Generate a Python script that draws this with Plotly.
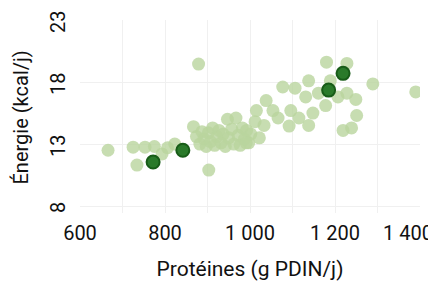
import plotly.graph_objects as go

# Light (other farms) points
light_x = [666, 725, 734, 753, 775, 793, 806, 823, 879, 903,
           867, 874, 882, 887, 892, 897, 902, 907, 912, 917, 922, 927, 932, 937, 942,
           947, 950, 957, 962, 967, 972, 977, 982, 987, 992, 997, 1002, 991, 1012, 1022,
           1015, 1033, 1038, 1054, 1066, 1077, 1092, 1096, 1106, 1115, 1131, 1138, 1138,
           1148, 1161, 1178, 1180, 1189, 1207, 1219, 1228, 1228, 1239, 1249, 1251, 1289, 1390]
light_y = [12.5, 12.75, 11.3, 12.75, 12.8, 12.2, 12.7, 13.0, 19.45, 10.9,
           14.4, 13.6, 13.0, 14.0, 13.4, 12.8, 13.9, 13.2, 14.3, 12.9, 13.6, 14.1, 13.1, 13.8, 12.8,
           15.0, 13.5, 14.2, 13.0, 15.1, 13.7, 12.9, 14.3, 13.4, 14.1, 13.1, 13.8, 13.1, 14.8, 13.5,
           15.7, 14.5, 16.5, 15.7, 15.1, 17.6, 14.45, 15.7, 17.5, 15.1, 16.8, 18.1, 14.5,
           15.5, 17.1, 16.1, 19.6, 18.1, 16.8, 14.1, 19.5, 17.1, 14.3, 16.6, 15.3, 17.85, 17.2]

# Highlighted points
dark_x = [772, 842, 1185, 1219]
dark_y = [11.55, 12.5, 17.35, 18.7]

x_ticks = [600, 800, 1000, 1200, 1400]
x_ticklabels = ["600", "800", "1 000", "1 200", "1 400"]
y_ticks = [8, 13, 18, 23]
y_ticklabels = ["8", "13", "18", "23"]

TXT = "#111"
font = "Roboto, Arial, sans-serif"
TICK_SIZE = 20

fig = go.Figure()
fig.add_trace(go.Scatter(
    x=light_x, y=light_y, mode="markers",
    marker=dict(size=13, color="rgba(185,212,158,0.8)", line=dict(width=0)),
    showlegend=False, hoverinfo="x+y"))
fig.add_trace(go.Scatter(
    x=dark_x, y=dark_y, mode="markers",
    marker=dict(size=13, color="#2a7a2a", line=dict(width=2, color="#185c18")),
    showlegend=False, hoverinfo="x+y"))

# last x tick label is pulled inside the page (as in the reference)
shown_text = x_ticklabels[:-1] + [""]
fig.add_annotation(
    x=x_ticks[-1], xref="x", y=0, yref="paper",
    text=x_ticklabels[-1], showarrow=False,
    xanchor="right", yanchor="top", xshift=15, yshift=-6,
    font=dict(family=font, size=TICK_SIZE, color=TXT))

# vertical (rotated) y tick labels, placed on the y axis values
for v, t in zip(y_ticks, y_ticklabels):
    fig.add_annotation(
        x=0, xref="paper", y=v, yref="y", text=t, showarrow=False,
        textangle=-90, xanchor="center", yanchor="middle",
        xshift=-22, yshift=-2,
        font=dict(family=font, size=TICK_SIZE, color=TXT))

# y axis title
fig.add_annotation(
    x=0, xref="paper", y=0.5, yref="paper", text="Énergie (kcal/j)",
    showarrow=False, textangle=-90, xanchor="center", yanchor="middle",
    xshift=-60, yshift=-1,
    font=dict(family=font, size=20, color=TXT))

fig.update_layout(
    width=428, height=276,
    margin=dict(l=72, r=16, t=12, b=71),
    paper_bgcolor="white", plot_bgcolor="white",
    font=dict(family=font, size=TICK_SIZE, color=TXT),
)
fig.update_xaxes(
    range=[600, 1400], tickvals=x_ticks, ticktext=shown_text,
    automargin=False,
    showgrid=True, gridcolor="#f0f0f0", gridwidth=1,
    minor=dict(dtick=100, showgrid=True, gridcolor="#f0f0f0"),
    zeroline=False, showline=False, ticks="",
    ticklabelstandoff=6,
    title=dict(text="Protéines (g PDIN/j)", font=dict(size=21), standoff=17),
    tickfont=dict(size=TICK_SIZE),
)
fig.update_yaxes(
    range=[7.44, 23.0], tickvals=y_ticks, showticklabels=False,
    automargin=False,
    showgrid=True, gridcolor="#f0f0f0", gridwidth=1,
    zeroline=False, showline=False, ticks="",
)
fig.write_html("out.html")
